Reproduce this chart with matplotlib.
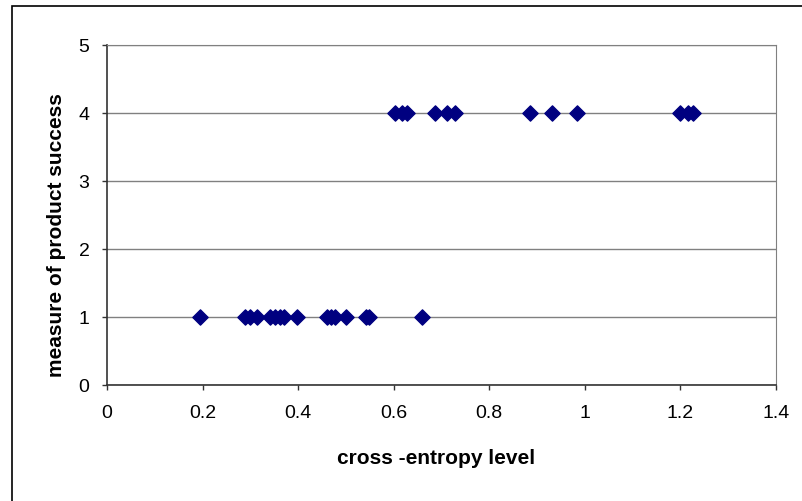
import matplotlib
matplotlib.use('Agg')
import matplotlib.pyplot as plt
from matplotlib.patches import Rectangle

plt.rcParams['font.family'] = ['Liberation Sans', 'DejaVu Sans']

# cross-entropy level vs measure of product success
entropy_low = [0.195, 0.289, 0.299, 0.314, 0.341, 0.352, 0.362, 0.370, 0.398,
               0.460, 0.468, 0.477, 0.500, 0.542, 0.549, 0.659]
success_low = [1] * len(entropy_low)
entropy_high = [0.603, 0.618, 0.628, 0.686, 0.711, 0.728, 0.885, 0.931, 0.983,
                1.199, 1.215, 1.226]
success_high = [4] * len(entropy_high)

x_ticks = [0, 0.2, 0.4, 0.6, 0.8, 1, 1.2, 1.4]
x_tick_labels = ['0', '0.2', '0.4', '0.6', '0.8', '1', '1.2', '1.4']
y_ticks = [0, 1, 2, 3, 4, 5]

fig = plt.figure(figsize=(8.02, 5.02), dpi=100)
ax = fig.add_axes([0.1334, 0.2311, 0.8342, 0.6773])

ax.scatter(entropy_low + entropy_high, success_low + success_high,
           marker='D', s=60, color='#000080', zorder=3, clip_on=False)

ax.set_xlim(0, 1.4)
ax.set_ylim(0, 5)
ax.set_xticks(x_ticks)
ax.set_xticklabels(x_tick_labels)
ax.set_yticks(y_ticks)
ax.tick_params(axis='both', labelsize=14, length=3.6, width=1, color='#333333')
ax.tick_params(axis='x', pad=10)
ax.tick_params(axis='y', pad=9)
ax.yaxis.grid(True, color='#808080', linewidth=1)
ax.set_axisbelow(True)

for side in ['top', 'right']:
    ax.spines[side].set_color('#808080')
for side in ['left', 'bottom']:
    ax.spines[side].set_color('#333333')
    ax.spines[side].set_linewidth(1.2)

ax.set_xlabel('cross -entropy level', fontsize=15, fontweight='bold')
ax.set_ylabel('measure of product success', fontsize=15, fontweight='bold')
ax.xaxis.set_label_coords(0.4925, -0.185)
ax.yaxis.set_label_coords(-0.0613, 0.444)

fig.patches.append(Rectangle((0.015, -0.05), 1.05, 1.036, transform=fig.transFigure,
                             fill=False, edgecolor='black', linewidth=1.2))

fig.savefig('out.png', dpi=100)
